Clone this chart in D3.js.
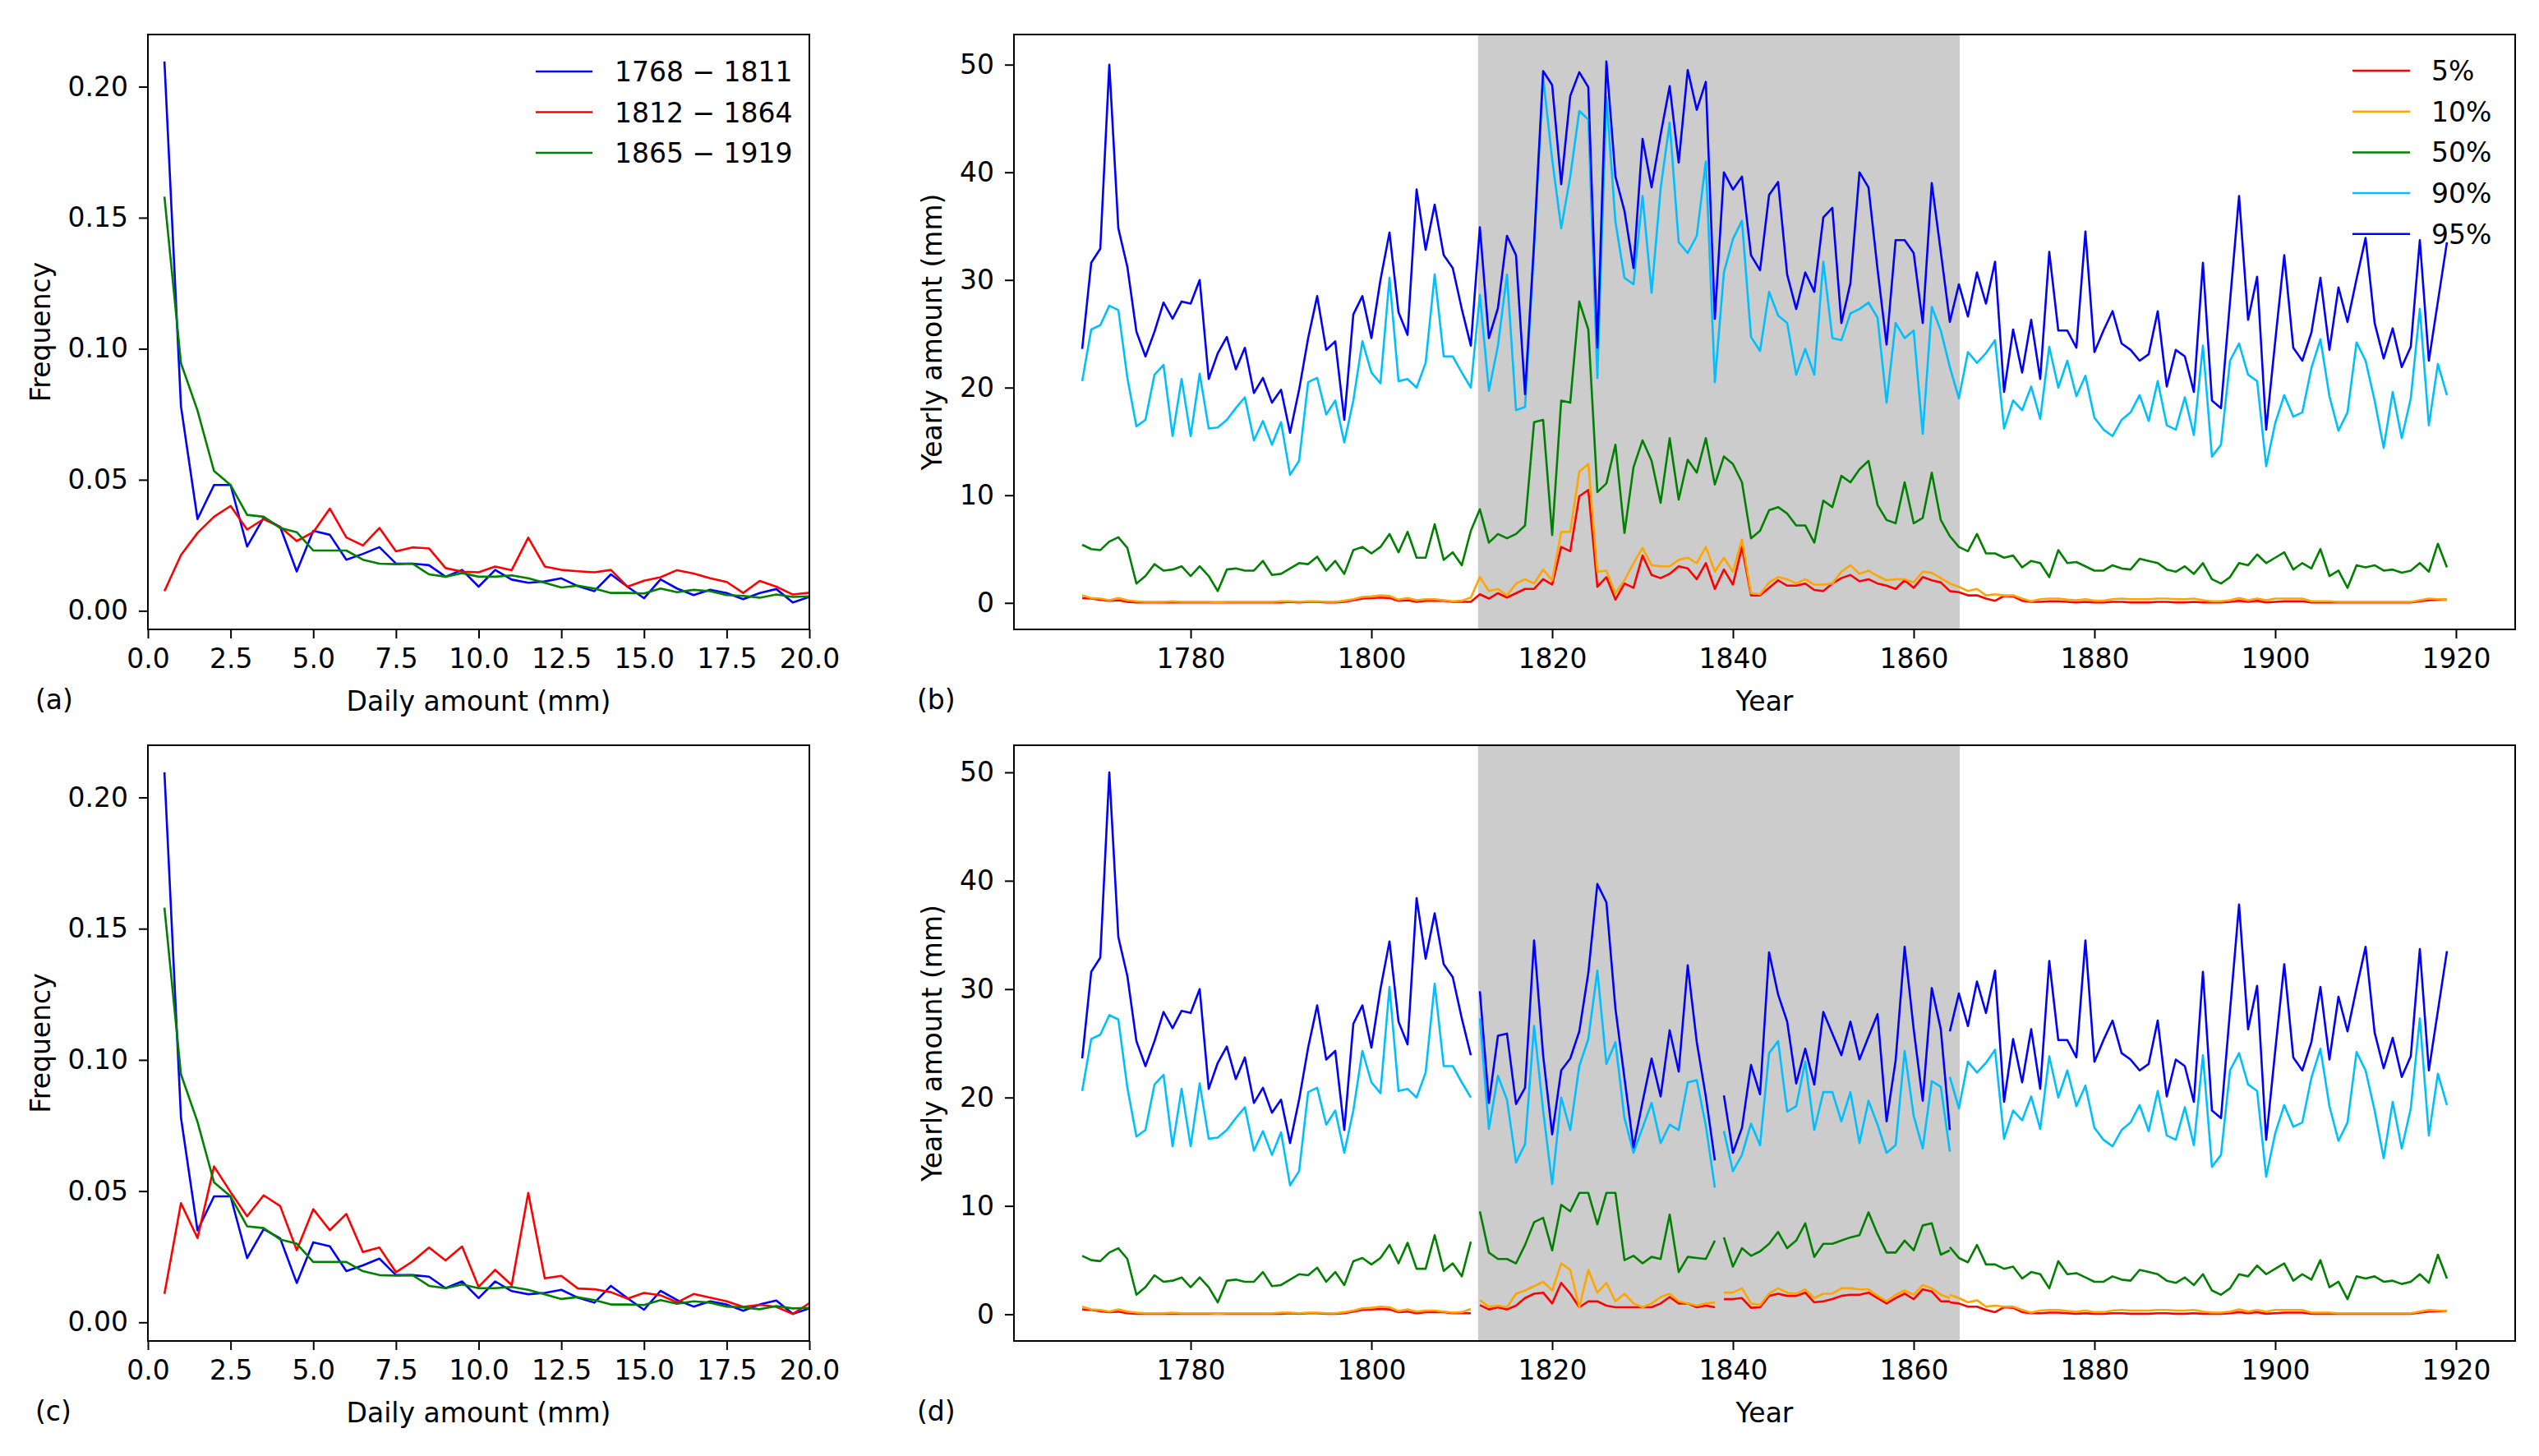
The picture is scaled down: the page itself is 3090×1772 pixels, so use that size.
<!DOCTYPE html>
<html lang="en">
<head>
    <meta charset="UTF-8">
    <title>Daily amount frequency and yearly percentiles</title>
    <script src="https://d3js.org/d3.v7.min.js"></script>
    <style>
        body { margin: 0; background: #fff; }
        text { font-family: "DejaVu Sans", sans-serif; fill: #000; }
        .tick text { font-size: 33px; }
        .tick line { stroke: #000; stroke-width: 2px; }
        .series { fill: none; stroke-width: 2.6px; stroke-linejoin: round; }
    </style>
</head>
<body>
    <div id="chart"></div>
    <script>
        // ---- frequency of daily amounts, bins 0.5 .. 20 mm ----
        var bins = d3.range(1, 41).map(function (i) { return i * 0.5; });
        var freqEarly = [0.2096, 0.078, 0.035, 0.048, 0.048, 0.0245, 0.0355, 0.032, 0.015, 0.0305,
            0.029, 0.0195, 0.0217, 0.0243, 0.018, 0.018, 0.0174, 0.013, 0.0156, 0.0092,
            0.0156, 0.0119, 0.0107, 0.0112, 0.0124, 0.0094, 0.0075, 0.0139, 0.0092, 0.0048,
            0.012, 0.0085, 0.006, 0.008, 0.0068, 0.0044, 0.0068, 0.0083, 0.0032, 0.0053];
        var freqMid = [0.0075, 0.0213, 0.0297, 0.0359, 0.040, 0.031, 0.035, 0.032, 0.0266, 0.030,
            0.039, 0.028, 0.0249, 0.0316, 0.0227, 0.0242, 0.0238, 0.0163, 0.0149, 0.0147,
            0.0169, 0.0155, 0.0279, 0.0169, 0.0156, 0.0151, 0.0147, 0.0156, 0.0092, 0.0115,
            0.0128, 0.0155, 0.0142, 0.0124, 0.011, 0.0068, 0.0114, 0.0092, 0.0062, 0.0069];
        var freqMidAlt = [0.0108, 0.0454, 0.0321, 0.0594, 0.0496, 0.0404, 0.0484, 0.0443, 0.0275, 0.0431,
            0.0351, 0.0413, 0.0268, 0.0285, 0.0191, 0.0232, 0.0285, 0.0236, 0.0289, 0.0135,
            0.020, 0.0142, 0.0493, 0.0168, 0.0177, 0.0129, 0.0126, 0.0115, 0.009, 0.0112,
            0.0103, 0.0076, 0.0108, 0.0094, 0.008, 0.0059, 0.0067, 0.0059, 0.0032, 0.0073];
        var freqLate = [0.158, 0.0945, 0.0764, 0.0533, 0.048, 0.0366, 0.0359, 0.0316, 0.030, 0.023,
            0.023, 0.023, 0.0195, 0.018, 0.0178, 0.018, 0.0139, 0.013, 0.0144, 0.013,
            0.013, 0.0135, 0.0124, 0.0107, 0.0089, 0.0096, 0.0085, 0.0068, 0.0068, 0.0066,
            0.0085, 0.0071, 0.008, 0.0075, 0.006, 0.0057, 0.005, 0.0062, 0.0053, 0.0055];
        var periodLabels = ["1768 \u2212 1811", "1812 \u2212 1864", "1865 \u2212 1919"];
        var freqTicks = [0, 2.5, 5, 7.5, 10, 12.5, 15, 17.5, 20];
        var freqYTicks = [0, 0.05, 0.10, 0.15, 0.20];

        // ---- yearly percentiles 1768 .. 1919 ----
        var years = d3.range(1768, 1920);
        var q95 = [23.6, 31.6,
            32.9, 50.0, 34.8, 31.2, 25.2, 22.9, 25.2, 27.9, 26.4, 28.0,
            27.8, 30.0, 20.8, 23.2, 24.7, 21.7, 23.7, 19.5, 20.9, 18.6,
            19.8, 15.8, 19.8, 24.6, 28.5, 23.5, 24.3, 17.0, 26.8, 28.5,
            24.6, 30.0, 34.4, 27.0, 24.9, 38.4, 32.8, 37.0, 32.3, 31.1,
            27.3, 23.9, 34.9, 24.6, 27.4, 34.1, 32.3, 19.4, 33.5, 49.4,
            48.1, 38.9, 47.1, 49.3, 47.9, 23.7, 50.3, 39.6, 36.4, 31.1,
            43.1, 38.6, 43.5, 48.0, 40.9, 49.5, 45.8, 48.4, 26.4, 40.0,
            38.4, 39.6, 32.3, 30.9, 37.9, 39.1, 30.5, 27.3, 30.7, 28.9,
            35.8, 36.7, 26.0, 29.7, 40.0, 38.6, 31.0, 24.0, 33.7, 33.7,
            32.5, 26.0, 39.0, 32.6, 26.1, 29.6, 26.6, 30.7, 27.8, 31.7,
            19.6, 25.4, 21.4, 26.3, 20.8, 32.6, 25.3, 25.3, 23.7, 34.5,
            23.3, 25.3, 27.1, 24.1, 23.5, 22.5, 23.1, 27.1, 20.1, 23.5,
            22.9, 19.6, 31.6, 18.8, 18.1, 28.0, 37.8, 26.3, 30.3, 16.1,
            24.3, 32.3, 23.7, 22.5, 25.1, 30.2, 23.5, 29.3, 26.1, 30.1,
            33.9, 26.0, 22.7, 25.5, 21.9, 23.8, 33.7, 22.5, 28.0, 33.5];
        var q90 = [20.6, 25.4,
            25.8, 27.6, 27.2, 20.9, 16.4, 17.0, 21.2, 22.1, 15.5, 20.8,
            15.5, 21.3, 16.2, 16.3, 17.0, 18.1, 19.1, 15.1, 16.9, 14.7,
            16.8, 11.9, 13.2, 20.5, 20.9, 17.5, 18.8, 14.9, 18.8, 24.3,
            21.4, 20.4, 30.2, 20.6, 20.8, 20.0, 22.3, 30.5, 22.9, 22.9,
            21.4, 20.0, 28.6, 19.7, 23.9, 30.5, 17.9, 18.2, 33.0, 48.8,
            41.2, 34.8, 39.6, 45.7, 44.9, 20.9, 47.0, 35.4, 30.2, 29.6,
            37.8, 28.8, 38.5, 44.6, 33.5, 32.5, 34.1, 41.0, 20.5, 30.7,
            33.8, 35.5, 24.7, 23.4, 28.9, 26.7, 26.0, 21.2, 23.6, 21.2,
            31.7, 24.6, 24.4, 26.9, 27.3, 27.9, 26.5, 18.6, 26.0, 24.6,
            25.3, 15.7, 27.5, 25.3, 21.9, 19.0, 23.3, 22.3, 23.2, 24.4,
            16.2, 18.8, 17.9, 20.1, 17.1, 23.8, 20.0, 22.5, 19.2, 21.1,
            17.2, 16.1, 15.5, 17.0, 17.7, 19.3, 16.9, 20.6, 16.5, 16.1,
            19.1, 15.6, 23.9, 13.6, 14.7, 22.5, 24.1, 21.2, 20.6, 12.7,
            16.7, 19.3, 17.3, 17.7, 21.8, 24.5, 19.2, 16.0, 17.7, 24.2,
            22.5, 18.8, 14.4, 19.6, 15.3, 19.0, 27.3, 16.5, 22.2, 19.3];
        var q50 = [5.4, 5.0,
            4.9, 5.7, 6.1, 5.1, 1.8, 2.5, 3.6, 3.0, 3.1, 3.4,
            2.5, 3.4, 2.5, 1.1, 3.1, 3.2, 3.0, 3.0, 3.9, 2.6,
            2.7, 3.2, 3.7, 3.6, 4.3, 3.0, 3.9, 2.7, 4.9, 5.2,
            4.6, 5.2, 6.4, 4.7, 6.6, 4.2, 4.2, 7.3, 4.0, 4.7,
            3.5, 6.7, 8.7, 5.6, 6.4, 6.0, 6.4, 7.2, 16.8, 17.0,
            6.3, 18.8, 18.6, 28.0, 25.4, 10.3, 11.1, 14.7, 6.5, 12.6,
            15.1, 13.2, 9.3, 15.3, 9.6, 13.3, 12.1, 15.3, 11.0, 13.6,
            12.9, 11.2, 6.0, 6.7, 8.6, 8.9, 8.3, 7.2, 7.2, 5.6,
            9.5, 8.9, 11.8, 11.2, 12.4, 13.2, 9.1, 7.7, 7.4, 11.2,
            7.4, 7.9, 12.1, 7.7, 6.2, 5.2, 4.8, 6.4, 4.6, 4.6,
            4.2, 4.4, 3.3, 3.9, 3.7, 2.4, 4.9, 3.7, 3.8, 3.4,
            3.0, 3.0, 3.5, 3.2, 3.1, 4.1, 3.9, 3.7, 3.1, 2.9,
            3.4, 2.7, 3.7, 2.2, 1.8, 2.4, 3.7, 3.5, 4.5, 3.7,
            4.2, 4.7, 3.1, 3.7, 3.2, 5.0, 2.5, 3.0, 1.4, 3.5,
            3.3, 3.5, 3.0, 3.1, 2.8, 3.0, 3.7, 2.9, 5.5, 3.3];
        var q10 = [0.7, 0.45,
            0.4, 0.25, 0.45, 0.25, 0.15, 0.1, 0.1, 0.1, 0.15, 0.1,
            0.1, 0.1, 0.1, 0.05, 0.1, 0.1, 0.1, 0.1, 0.1, 0.1,
            0.15, 0.15, 0.1, 0.15, 0.15, 0.1, 0.1, 0.2, 0.35, 0.55,
            0.6, 0.7, 0.65, 0.3, 0.45, 0.25, 0.35, 0.35, 0.25, 0.15,
            0.2, 0.5, 2.4, 1.1, 1.3, 0.7, 1.8, 2.2, 1.8, 3.1,
            2.1, 6.6, 6.6, 12.2, 12.9, 2.9, 3.0, 0.9, 2.1, 3.7,
            5.1, 3.5, 3.4, 3.4, 4.0, 4.2, 3.7, 5.2, 2.9, 4.2,
            2.9, 5.9, 0.9, 0.8, 1.9, 2.4, 2.2, 1.8, 2.2, 1.7,
            1.7, 1.8, 2.9, 3.5, 2.7, 3.0, 2.5, 2.1, 2.2, 2.2,
            1.9, 2.9, 2.8, 2.3, 1.8, 1.5, 1.1, 1.3, 0.7, 0.8,
            0.7, 0.7, 0.4, 0.15, 0.35, 0.4, 0.4, 0.3, 0.25, 0.35,
            0.2, 0.2, 0.35, 0.4, 0.35, 0.35, 0.35, 0.4, 0.4, 0.35,
            0.35, 0.4, 0.25, 0.15, 0.15, 0.25, 0.45, 0.25, 0.4, 0.25,
            0.4, 0.4, 0.4, 0.4, 0.15, 0.15, 0.15, 0.1, 0.1, 0.1,
            0.1, 0.1, 0.1, 0.1, 0.1, 0.1, 0.25, 0.4, 0.35, 0.3];
        var q5 = [0.45, 0.4,
            0.3, 0.2, 0.25, 0.1, 0.05, 0.05, 0.05, 0.05, 0.05, 0.05,
            0.05, 0.05, 0.05, 0.05, 0.05, 0.05, 0.05, 0.05, 0.05, 0.05,
            0.05, 0.1, 0.05, 0.1, 0.1, 0.05, 0.05, 0.1, 0.25, 0.4,
            0.45, 0.5, 0.45, 0.2, 0.25, 0.1, 0.2, 0.2, 0.2, 0.1,
            0.1, 0.1, 0.8, 0.4, 0.9, 0.5, 0.9, 1.3, 1.3, 2.2,
            1.7, 5.2, 4.8, 9.9, 10.5, 1.5, 2.4, 0.3, 1.8, 1.4,
            4.4, 2.6, 2.3, 2.7, 3.4, 3.2, 2.2, 3.7, 1.3, 3.1,
            1.7, 5.2, 0.7, 0.7, 1.4, 2.1, 1.6, 1.6, 1.8, 1.2,
            1.1, 1.8, 2.3, 2.6, 2.0, 2.2, 1.8, 1.6, 1.3, 2.1,
            1.4, 2.4, 2.1, 1.9, 1.1, 1.0, 0.7, 0.7, 0.4, 0.2,
            0.65, 0.6, 0.2, 0.1, 0.1, 0.15, 0.15, 0.1, 0.05, 0.1,
            0.05, 0.05, 0.1, 0.1, 0.05, 0.05, 0.05, 0.1, 0.1, 0.05,
            0.05, 0.1, 0.05, 0.05, 0.05, 0.1, 0.2, 0.1, 0.2, 0.05,
            0.1, 0.15, 0.15, 0.15, 0.05, 0.05, 0.05, 0.05, 0.05, 0.05,
            0.05, 0.05, 0.05, 0.05, 0.05, 0.05, 0.15, 0.25, 0.3, 0.3];

        // ---- panel (d): middle period 1812 .. 1864 recomputed ----
        var midYears = d3.range(1812, 1865);
        var m95 = [29.8, 19.5, 25.7, 25.9, 19.4, 20.9, 34.5, 23.9,
            16.6, 22.5, 23.6, 26.1, 31.5, 39.7, 38.0, 28.2, 21.8, 15.4,
            19.6, 23.6, 20.1, 26.2, 22.4, 32.2, 25.1, 20.1, 14.2, 20.2,
            14.9, 17.2, 23.0, 20.3, 33.4, 29.5, 27.0, 21.3, 24.5, 21.2,
            27.9, 25.9, 23.9, 27.0, 23.5, 25.6, 27.7, 17.8, 23.4, 33.9,
            26.3, 19.7, 30.1, 26.3, 17.0];
        var m90 = [27.3, 17.1, 22.0, 19.8, 14.0, 15.7, 26.6, 18.8,
            12.0, 20.0, 17.0, 22.9, 25.4, 31.7, 23.1, 25.1, 18.1, 14.9,
            17.2, 19.5, 15.8, 17.5, 17.0, 21.4, 21.6, 17.4, 11.7, 16.9,
            13.2, 14.7, 17.6, 15.6, 24.1, 25.2, 18.7, 19.2, 23.3, 17.0,
            20.5, 20.5, 17.8, 20.5, 15.8, 19.7, 17.5, 14.9, 15.6, 24.3,
            18.3, 15.3, 21.5, 21.0, 15.0];
        var m50 = [9.5, 5.7, 5.1, 5.1, 4.7, 6.4, 8.5, 8.9,
            5.9, 10.1, 9.5, 11.2, 11.2, 8.3, 11.2, 11.2, 5.0, 5.4,
            4.7, 5.3, 5.1, 9.2, 3.9, 5.3, 5.2, 5.1, 6.8, 7.1,
            4.4, 6.1, 5.4, 5.8, 6.5, 7.6, 6.1, 6.8, 8.4, 5.3,
            6.5, 6.5, 6.8, 7.1, 7.3, 9.4, 7.4, 5.7, 5.7, 6.8,
            5.9, 8.2, 8.4, 5.5, 5.9];
        var m10 = [1.3, 0.7, 0.8, 0.65, 1.9, 2.2, 2.6, 3.0,
            2.2, 4.7, 4.1, 0.65, 4.1, 2.0, 2.9, 1.2, 1.9, 1.0,
            0.65, 1.0, 1.6, 1.9, 1.2, 1.0, 0.8, 1.0, 1.1, 2.0,
            2.0, 2.4, 1.0, 0.85, 1.9, 2.4, 2.0, 1.9, 2.3, 1.5,
            1.9, 1.9, 2.4, 2.4, 2.3, 2.3, 1.7, 1.2, 1.8, 2.2,
            1.8, 2.7, 2.4, 1.8, 1.5];
        var m5 = [0.85, 0.45, 0.65, 0.45, 0.8, 1.5, 1.9, 2.0,
            1.0, 2.9, 1.9, 0.65, 1.2, 1.2, 0.8, 0.65, 0.65, 0.65,
            0.65, 0.65, 1.0, 1.6, 1.0, 1.0, 0.65, 0.8, 0.65, 1.4,
            1.4, 1.5, 0.6, 0.65, 1.7, 1.9, 1.7, 1.7, 2.0, 1.1,
            1.2, 1.4, 1.7, 1.8, 1.8, 2.0, 1.5, 1.0, 1.5, 1.9,
            1.4, 2.3, 2.1, 1.2, 1.2];

        var pctLabels = ["5%", "10%", "50%", "90%", "95%"];
        var pctColors = ["#ff0000", "#ffa500", "#008000", "#00bfff", "#0000ff"];
        var periodColors = ["#0000ff", "#ff0000", "#008000"];
        var yearTicks = [1780, 1800, 1820, 1840, 1860, 1880, 1900, 1920];
        var amountTicks = [0, 10, 20, 30, 40, 50];
        var shadeSpan = [1811.8, 1865.1];

        var W = 3090, H = 1772;
        var svg = d3.select("#chart").append("svg")
            .attr("width", W)
            .attr("height", H);
        svg.append("rect").attr("width", W).attr("height", H).attr("fill", "#fff");

        var boxes = {
            a: { x0: 180, x1: 985, y0: 42, y1: 766 },
            b: { x0: 1234, x1: 3061, y0: 42, y1: 766 },
            c: { x0: 180, x1: 985, y0: 907, y1: 1632 },
            d: { x0: 1234, x1: 3061, y0: 907, y1: 1632 }
        };

        function drawAxes(box, x, y, xt, yt, xfmt, yfmt, xlabel, ylabel, ylabelX, tag, tagX) {
            svg.append("g")
                .attr("transform", "translate(0," + box.y1 + ")")
                .call(d3.axisBottom(x).tickValues(xt).tickFormat(xfmt).tickSize(11).tickPadding(13))
                .call(function (g) { g.select(".domain").remove(); });
            svg.append("g")
                .attr("transform", "translate(" + box.x0 + ",0)")
                .call(d3.axisLeft(y).tickValues(yt).tickFormat(yfmt).tickSize(11).tickPadding(13))
                .call(function (g) { g.select(".domain").remove(); });
            svg.append("rect")
                .attr("x", box.x0).attr("y", box.y0)
                .attr("width", box.x1 - box.x0).attr("height", box.y1 - box.y0)
                .attr("fill", "none").attr("stroke", "#000").attr("stroke-width", 2);
            svg.append("text")
                .attr("x", (box.x0 + box.x1) / 2).attr("y", box.y1 + 99)
                .attr("text-anchor", "middle").style("font-size", "33px")
                .text(xlabel);
            svg.append("text")
                .attr("transform", "translate(" + ylabelX + "," + (box.y0 + box.y1) / 2 + ") rotate(-90)")
                .attr("text-anchor", "middle").style("font-size", "33px")
                .text(ylabel);
            svg.append("text")
                .attr("x", tagX).attr("y", box.y1 + 97)
                .style("font-size", "33px")
                .text(tag);
        }

        function clipFor(id, box) {
            svg.append("clipPath").attr("id", id).append("rect")
                .attr("x", box.x0).attr("y", box.y0)
                .attr("width", box.x1 - box.x0).attr("height", box.y1 - box.y0);
            return "url(#" + id + ")";
        }

        // ---- frequency panels (a) and (c) ----
        function freqPanel(box, redSeries, tag, withLegend, id) {
            var x = d3.scaleLinear().domain([0, 20]).range([box.x0, box.x1]);
            var y = d3.scaleLinear().domain([-0.0071, 0.2199]).range([box.y1, box.y0]);
            var line = d3.line().x(function (d) { return x(d[0]); }).y(function (d) { return y(d[1]); });
            var g = svg.append("g").attr("clip-path", clipFor(id, box));
            [freqEarly, redSeries, freqLate].forEach(function (s, k) {
                g.append("path")
                    .datum(bins.map(function (b, i) { return [b, s[i]]; }))
                    .attr("class", "series")
                    .attr("stroke", periodColors[k])
                    .attr("d", line);
            });
            drawAxes(box, x, y, freqTicks, freqYTicks, d3.format(".1f"), d3.format(".2f"),
                "Daily amount (mm)", "Frequency", 61, tag, 43);
            if (withLegend) {
                periodLabels.forEach(function (lab, k) {
                    var ly = box.y0 + 45 + k * 49.5;
                    svg.append("line").attr("x1", 652).attr("x2", 721).attr("y1", ly).attr("y2", ly)
                        .attr("stroke", periodColors[k]).attr("stroke-width", 2.5);
                    svg.append("text").attr("x", 748).attr("y", ly + 12)
                        .style("font-size", "33px").text(lab);
                });
            }
        }

        // ---- percentile panels (b) and (d) ----
        function pctPanel(box, yTop, segments, tag, withLegend, id) {
            var x = d3.scaleLinear().domain([1760.45, 1926.55]).range([box.x0, box.x1]);
            var y = d3.scaleLinear().domain([-2.46, yTop]).range([box.y1, box.y0]);
            var line = d3.line().x(function (d) { return x(d[0]); }).y(function (d) { return y(d[1]); });
            var g = svg.append("g").attr("clip-path", clipFor(id, box));
            g.append("rect")
                .attr("x", x(shadeSpan[0])).attr("y", box.y0)
                .attr("width", x(shadeSpan[1]) - x(shadeSpan[0]))
                .attr("height", box.y1 - box.y0)
                .attr("fill", "#cccccc");
            for (var k = 0; k < 5; k++) {
                segments.forEach(function (seg) {
                    var pts = [];
                    seg.yrs.forEach(function (yr, i) {
                        if (yr >= seg.from && yr <= seg.to) pts.push([yr, seg.vals[k][i]]);
                    });
                    g.append("path")
                        .datum(pts)
                        .attr("class", "series")
                        .attr("stroke", pctColors[k])
                        .attr("d", line);
                });
            }
            drawAxes(box, x, y, yearTicks, amountTicks, d3.format("d"), d3.format("d"),
                "Year", "Yearly amount (mm)", 1146, tag, 1116);
            if (withLegend) {
                pctLabels.forEach(function (lab, k) {
                    var ly = box.y0 + 44 + k * 49.7;
                    svg.append("line").attr("x1", 2863).attr("x2", 2933).attr("y1", ly).attr("y2", ly)
                        .attr("stroke", pctColors[k]).attr("stroke-width", 2.5);
                    svg.append("text").attr("x", 2959).attr("y", ly + 12)
                        .style("font-size", "33px").text(lab);
                });
            }
        }

        var allVals = [q5, q10, q50, q90, q95];
        var midVals = [m5, m10, m50, m90, m95];

        freqPanel(boxes.a, freqMid, "(a)", true, "clipA");
        pctPanel(boxes.b, 52.8, [
            { yrs: years, vals: allVals, from: 1768, to: 1919 }
        ], "(b)", true, "clipB");
        freqPanel(boxes.c, freqMidAlt, "(c)", false, "clipC");
        pctPanel(boxes.d, 52.5, [
            { yrs: years, vals: allVals, from: 1768, to: 1811 },
            { yrs: midYears, vals: midVals, from: 1812, to: 1838 },
            { yrs: midYears, vals: midVals, from: 1839, to: 1864 },
            { yrs: years, vals: allVals, from: 1864, to: 1919 }
        ], "(d)", false, "clipD");
    </script>
</body>
</html>
